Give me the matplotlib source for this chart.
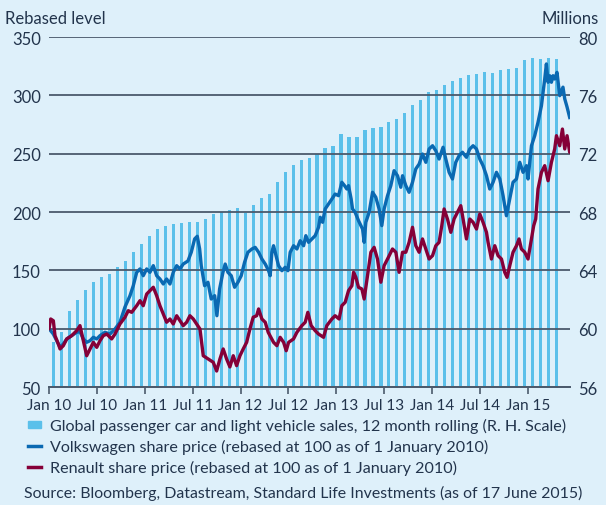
import numpy as np
import matplotlib.pyplot as plt
from matplotlib.lines import Line2D
from matplotlib.patches import Patch

# x values are months since January 2010
tick_pos = [0, 6, 12, 18, 24, 30, 36, 42, 48, 54, 60]
tick_labels = ['Jan 10', 'Jul 10', 'Jan 11', 'Jul 11', 'Jan 12', 'Jul 12',
               'Jan 13', 'Jul 13', 'Jan 14', 'Jul 14', 'Jan 15']

# Global passenger car and light vehicle sales, 12m rolling (millions), Jan 10 - Apr 15
sales = [59.06, 59.75, 61.19, 61.99, 62.63, 63.18, 63.52, 63.73, 64.21, 64.62,
         65.24, 65.78, 66.35, 66.83, 67.06, 67.16, 67.22, 67.29, 67.29, 67.54,
         67.86, 68.02, 68.12, 68.25, 67.91, 68.48, 68.98, 69.21, 70.04, 70.72,
         71.22, 71.59, 71.68, 72.00, 72.37, 72.55, 73.35, 73.12, 73.12, 73.62,
         73.76, 73.83, 74.15, 74.38, 74.79, 75.34, 75.66, 76.21, 76.37, 76.69,
         76.98, 77.17, 77.39, 77.48, 77.58, 77.55, 77.72, 77.81, 77.87, 78.42,
         78.58, 78.49, 78.56, 78.49]

vw_month = [0.0, 0.54, 0.96, 1.38, 1.79, 2.22, 2.84, 3.47, 3.88, 4.30, 4.72, 5.14,
            5.55, 5.98, 6.39, 7.01, 7.64, 8.27, 8.89, 9.52, 10.15, 10.56, 10.99,
            11.40, 11.81, 12.24, 12.65, 13.07, 13.49, 13.90, 14.32, 14.74, 15.16,
            15.57, 16.00, 16.41, 16.82, 17.41, 17.83, 18.25, 18.58, 18.88, 19.08,
            19.50, 19.92, 20.33, 20.76, 21.04, 21.38, 21.80, 22.08, 22.42, 22.84,
            23.26, 23.68, 24.09, 24.51, 24.93, 25.43, 25.84, 26.27, 26.68, 27.10,
            27.52, 27.72, 27.93, 28.14, 28.56, 28.77, 29.19, 29.60, 29.94, 30.23,
            30.65, 31.07, 31.48, 31.91, 32.19, 32.53, 32.95, 33.36, 33.78, 33.99,
            34.29, 34.61, 35.04, 35.45, 35.86, 36.29, 36.70, 37.04, 37.33, 37.54,
            37.87, 38.04, 38.37, 38.79, 39.30, 39.50, 39.71, 40.12, 40.55, 40.96,
            41.37, 41.71, 42.00, 42.43, 42.84, 43.25, 43.68, 44.09, 44.31, 44.72,
            45.13, 45.56, 45.97, 46.39, 46.81, 47.23, 47.64, 48.07, 48.48, 48.89,
            49.39, 49.73, 50.15, 50.57, 50.98, 51.40, 51.82, 52.32, 52.74, 53.15,
            53.58, 53.99, 54.40, 54.83, 55.24, 55.66, 56.08, 56.50, 56.91, 57.33,
            57.75, 58.16, 58.59, 59.00, 59.42, 59.84, 60.04, 60.47, 60.88, 61.29,
            61.72, 62.13, 62.34, 62.55, 62.76, 62.97, 63.17, 63.38, 63.67, 64.01,
            64.42, 64.64, 64.93, 65.26]
vw = [100.0, 95.4, 89.7, 84.0, 86.9, 91.2, 94.0, 96.9, 97.4, 91.2, 88.3, 89.7,
      92.6, 91.2, 94.0, 96.9, 95.4, 99.7, 105.5, 118.6, 128.3, 136.8, 148.3,
      151.2, 145.4, 151.2, 148.3, 154.0, 145.4, 142.6, 138.3, 142.6, 138.3,
      148.3, 154.0, 151.2, 155.4, 158.0, 165.5, 176.9, 179.2, 168.3, 154.0,
      136.8, 139.8, 125.4, 128.3, 111.1, 134.0, 148.3, 155.4, 148.3, 145.4,
      135.5, 139.8, 145.4, 156.9, 165.5, 168.3, 169.7, 165.5, 159.7, 155.4,
      149.7, 145.4, 165.5, 171.1, 159.7, 154.0, 149.7, 152.6, 149.7, 165.5,
      171.1, 168.3, 175.4, 171.1, 179.7, 174.0, 176.9, 179.7, 186.9, 195.5,
      191.2, 202.6, 206.9, 211.1, 215.4, 214.0, 225.5, 222.6, 219.7, 222.6,
      211.1, 202.6, 199.7, 192.6, 185.4, 174.0, 191.2, 199.7, 216.9, 212.6,
      202.6, 188.3, 202.6, 214.0, 222.6, 235.4, 231.1, 221.2, 231.1, 222.6,
      216.9, 225.5, 236.9, 241.1, 249.7, 242.6, 254.0, 256.8, 252.5, 245.4,
      255.5, 245.4, 234.0, 228.3, 242.6, 248.3, 251.2, 246.9, 254.0, 256.8,
      254.0, 245.4, 239.7, 231.1, 219.7, 225.5, 234.0, 228.3, 214.0, 196.8,
      211.1, 225.5, 228.3, 242.6, 234.0, 239.7, 228.3, 256.8, 265.4, 276.9,
      291.1, 314.0, 326.9, 311.2, 316.8, 311.2, 316.8, 314.0, 319.7, 299.7,
      307.0, 297.0, 290.0, 281.0]

renault_month = [0.0, 0.21, 0.54, 0.75, 1.17, 1.38, 1.79, 2.22, 2.84, 3.47, 3.88,
                 4.30, 4.72, 5.14, 5.55, 5.98, 6.39, 6.80, 7.23, 7.85, 8.27, 8.89,
                 9.52, 9.93, 10.36, 10.99, 11.40, 11.81, 12.24, 12.65, 13.07, 13.49,
                 13.90, 14.32, 14.74, 15.16, 15.57, 16.00, 16.41, 16.82, 17.25,
                 17.66, 18.08, 18.50, 18.92, 19.33, 19.96, 20.58, 21.01, 21.42,
                 21.83, 22.26, 22.67, 23.09, 23.51, 23.93, 24.34, 24.77, 25.18,
                 25.59, 26.02, 26.27, 26.68, 27.10, 27.47, 28.14, 28.56, 28.97,
                 29.40, 29.73, 30.03, 30.65, 31.07, 31.69, 32.11, 32.44, 32.86,
                 33.36, 33.78, 34.41, 34.82, 35.45, 35.86, 36.36, 36.70, 37.12,
                 37.54, 37.96, 38.17, 38.46, 38.79, 39.21, 39.50, 39.92, 40.34,
                 40.75, 41.17, 41.59, 42.00, 42.43, 43.05, 43.47, 43.88, 44.31,
                 44.72, 45.13, 45.56, 45.97, 46.39, 46.81, 47.23, 47.64, 48.07,
                 48.48, 48.89, 49.23, 49.52, 49.94, 50.36, 50.77, 51.19, 51.61,
                 51.90, 52.32, 52.74, 53.15, 53.58, 53.99, 54.40, 54.83, 55.03,
                 55.45, 55.87, 56.28, 56.71, 57.12, 57.41, 57.75, 58.16, 58.59,
                 58.91, 59.21, 59.63, 60.04, 60.47, 60.75, 61.00, 61.29, 61.72,
                 62.13, 62.55, 62.97, 63.38, 63.60, 64.01, 64.35, 64.64, 64.93,
                 65.26, 65.48]
renault = [100.0, 108.3, 106.8, 94.0, 86.9, 82.6, 85.4, 91.2, 94.0, 98.3, 102.6,
           89.7, 76.8, 82.6, 88.3, 84.0, 89.7, 94.0, 95.4, 91.2, 95.4, 104.0,
           109.8, 115.4, 114.0, 119.7, 124.0, 119.7, 129.7, 132.6, 135.5, 128.3,
           119.7, 112.6, 105.5, 108.3, 104.0, 111.1, 106.8, 102.6, 105.5, 111.1,
           108.3, 104.0, 99.7, 76.8, 74.0, 71.2, 63.7, 74.0, 82.6, 74.0, 67.2,
           76.8, 68.3, 76.8, 82.6, 88.3, 99.7, 109.8, 111.1, 116.9, 108.3, 105.5,
           96.9, 88.3, 85.4, 92.6, 88.3, 81.1, 88.3, 91.2, 96.9, 102.6, 105.5,
           114.0, 102.6, 98.3, 95.4, 92.6, 102.6, 108.3, 111.1, 108.3, 119.7,
           122.6, 132.6, 136.8, 148.3, 144.0, 135.5, 134.0, 125.4, 145.4, 165.5,
           169.7, 159.7, 139.8, 154.0, 159.7, 168.3, 165.5, 148.3, 165.5, 165.5,
           174.0, 186.9, 171.1, 165.5, 176.9, 168.3, 159.7, 162.6, 171.1, 174.0,
           188.3, 202.6, 194.0, 182.6, 194.0, 199.7, 205.4, 194.0, 176.9, 194.0,
           191.2, 185.4, 198.3, 191.2, 182.6, 174.0, 159.7, 171.1, 162.6, 159.7,
           148.3, 144.0, 154.0, 165.5, 171.1, 176.9, 168.3, 165.5, 159.7, 176.9,
           188.3, 194.0, 219.7, 234.0, 239.7, 226.8, 242.6, 254.0, 265.4, 256.8,
           271.1, 254.0, 265.4, 251.2, 256.8]

bg = '#def0fa'
bar_col = '#5bc0ea'
vw_col = '#0a69b2'
ren_col = '#850038'
grid_col = '#4b5a6c'
txt_col = '#22344c'

plt.rcParams['font.family'] = ['Lato', 'DejaVu Sans']
plt.rcParams['font.size'] = 11

fig = plt.figure(figsize=(6.06, 5.06), dpi=100, facecolor=bg)
ax = fig.add_axes([0.0809, 0.2332, 0.8597, 0.6917])
ax2 = ax.twinx()
ax.set_zorder(ax2.get_zorder() + 1)
ax.patch.set_visible(False)
ax2.set_facecolor(bg)

months = np.arange(len(sales)) + 0.6
ax2.bar(months, sales, width=0.4, color=bar_col, zorder=1)
ax2.set_ylim(56, 80)
ax2.set_yticks([56, 60, 64, 68, 72, 76, 80])

ax.plot(vw_month, vw, color=vw_col, lw=2.4, zorder=4)
ax.plot(renault_month, renault, color=ren_col, lw=2.4, zorder=5)
ax.set_ylim(50, 350)
ax.set_yticks([50, 100, 150, 200, 250, 300, 350])
ax.set_xlim(0, 65.3)
ax.set_xticks(tick_pos)
ax.set_xticklabels(tick_labels)
ax.grid(axis='y', color=grid_col, lw=1.3, zorder=3)
ax.set_axisbelow(False)

for a in (ax, ax2):
    for s in ('left', 'right', 'top'):
        a.spines[s].set_visible(False)
    a.spines['bottom'].set_color(grid_col)
    a.spines['bottom'].set_linewidth(1.3)
ax.tick_params(axis='y', length=0, pad=6, labelsize=12, labelcolor=txt_col)
ax2.tick_params(axis='y', length=0, pad=6, labelsize=12, labelcolor=txt_col)
ax.tick_params(axis='x', length=5, width=1.2, color=grid_col, pad=3,
               labelsize=11, labelcolor=txt_col)

fig.text(0.008, 0.962, 'Rebased level', fontsize=12, color=txt_col, va='center')
fig.text(0.988, 0.962, 'Millions', fontsize=12, color=txt_col, va='center', ha='right')

handles = [Patch(color=bar_col),
           Line2D([], [], color=vw_col, lw=2.5),
           Line2D([], [], color=ren_col, lw=2.5)]
labels = ['Global passenger car and light vehicle sales, 12 month rolling (R. H. Scale)',
          'Volkswagen share price (rebased at 100 as of 1 January 2010)',
          'Renault share price (rebased at 100 as of 1 January 2010)']
leg = fig.legend(handles, labels, loc='upper left', bbox_to_anchor=(0.035, 0.185),
                 frameon=False, fontsize=11.6, handlelength=0.8, handleheight=0.3,
                 handletextpad=0.6, labelspacing=0.36, borderaxespad=0)
for t in leg.get_texts():
    t.set_color(txt_col)

fig.text(0.04, 0.024, 'Source: Bloomberg, Datastream, Standard Life Investments (as of 17 June 2015)',
         fontsize=11.4, color=txt_col, va='center')

fig.savefig('out.png', dpi=100, facecolor=bg)
